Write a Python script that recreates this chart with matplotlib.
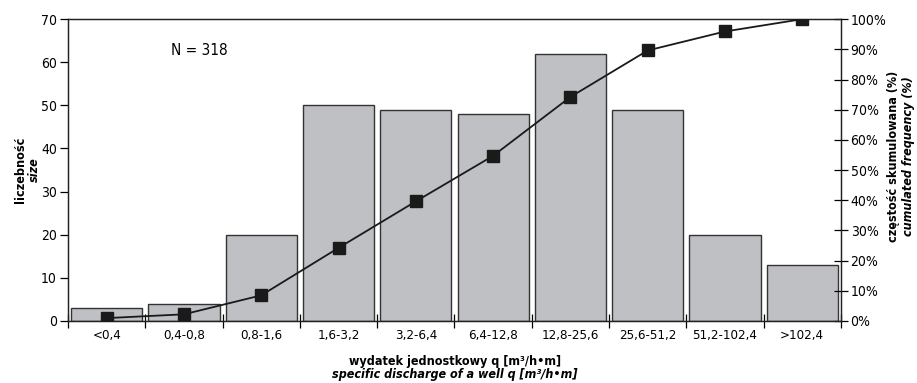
import numpy as np
import matplotlib.pyplot as plt
from matplotlib.ticker import FixedLocator, PercentFormatter

plt.rcParams['font.family'] = ['DejaVu Sans']
plt.rcParams['font.stretch'] = 'condensed'

classes = ['<0,4', '0,4-0,8', '0,8-1,6', '1,6-3,2', '3,2-6,4', '6,4-12,8',
           '12,8-25,6', '25,6-51,2', '51,2-102,4', '>102,4']
counts = [3, 4, 20, 50, 49, 48, 62, 49, 20, 13]
n_total = sum(counts)
cum_pct = np.cumsum(counts) / n_total * 100

fig = plt.figure(figsize=(9.17, 3.83), dpi=100)
ax = fig.add_axes([0.0742, 0.162, 0.8428, 0.788])
x = np.arange(len(classes))

ax.bar(x, counts, width=0.92, color='#bfc0c4', edgecolor='#333333', lw=1.0, zorder=2)
ax.set_xlim(-0.5, len(classes) - 0.5)
ax.set_ylim(0, 70)
ax.set_yticks(range(0, 71, 10))
ax.tick_params(axis='y', labelsize=10, length=6, width=0.9, pad=2)
ax.set_xticks(x)
ax.set_xticklabels(classes, fontsize=9.5)
ax.tick_params(axis='x', length=0, pad=6)
ax.xaxis.set_minor_locator(FixedLocator(np.arange(-0.5, len(classes), 1.0)))
ax.tick_params(axis='x', which='minor', length=10, width=0.9, direction='inout')
for s in ax.spines.values():
    s.set_linewidth(0.9)
    s.set_color('#222222')

ax.text(1.2, 62.8, f'N = {n_total}', ha='center', va='center', fontsize=11)

ax2 = ax.twinx()
ax2.plot(x, cum_pct, color='#1a1a1a', lw=1.3, marker='s', ms=8.5, zorder=5)
ax2.set_ylim(0, 100)
ax2.set_yticks(range(0, 101, 10))
ax2.yaxis.set_major_formatter(PercentFormatter(decimals=0))
ax2.tick_params(axis='y', labelsize=10, length=10, width=0.9, direction='inout', pad=2)
for s in ax2.spines.values():
    s.set_linewidth(0.9)
    s.set_color('#222222')

# axis titles, Polish (bold) + English (bold italic)
lab = dict(fontsize=9, fontweight='bold', ha='center', va='center')
fig.text(0.022, 0.556, 'liczebność', rotation=90, **lab)
fig.text(0.037, 0.556, 'size', rotation=90, style='italic', **lab)
fig.text(0.974, 0.593, 'częstość skumulowana (%)', rotation=90, **lab)
fig.text(0.991, 0.593, 'cumulated frequency (%)', rotation=90, style='italic', **lab)
fig.text(0.496, 0.056, 'wydatek jednostkowy q [m³/h•m]', **lab)
fig.text(0.496, 0.022, 'specific discharge of a well q [m³/h•m]', style='italic', **lab)

fig.savefig('out.png', dpi=100)
